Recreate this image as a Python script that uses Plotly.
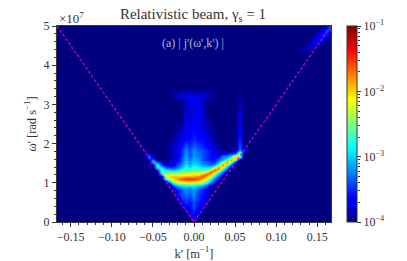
import math
import plotly.graph_objects as go

# wavenumber columns of the bright region (m^-1)
k_center = [-0.065, -0.06, -0.055, -0.05, -0.045, -0.04, -0.035, -0.03, -0.025, -0.02, -0.015, -0.01, -0.005,
            0.0, 0.005, 0.01, 0.015, 0.02, 0.025, 0.03, 0.035, 0.04, 0.045, 0.05, 0.055, 0.06, 0.065]
# frequency rows, units of 1e7 rad/s
omega_center = [3.4, 3.3, 3.2, 3.1, 2.9, 2.6, 2.3, 2.1, 1.9, 1.85, 1.8, 1.75, 1.7, 1.65, 1.6, 1.55, 1.5, 1.45, 1.4,
                1.35, 1.3, 1.25, 1.2, 1.15, 1.1, 1.05, 1.0, 0.95, 0.9, 0.85, 0.8, 0.7, 0.6, 0.5, 0.4, 0.3, 0.2, 0.1, 0.0]
# tenths of a decade above 1e-4
level_center = [
    [0,0,0,0,0,0,0,0,0,0,0,0,0,0,0,0,0,0,0,0,0,0,0,0,0,0,0],
    [0,0,0,0,0,0,0,0,1,1,2,2,2,2,2,2,1,1,0,0,0,0,0,0,1,0,0],
    [0,0,0,0,0,0,0,0,1,2,2,3,3,3,3,2,2,1,0,0,0,0,0,0,1,0,0],
    [0,0,0,0,0,0,0,0,0,0,0,2,3,3,3,2,0,0,0,0,0,0,0,0,1,0,0],
    [0,0,0,0,0,0,0,0,0,0,0,2,2,2,3,2,0,0,0,0,0,0,0,0,2,0,0],
    [0,0,0,0,0,0,0,0,0,0,0,3,2,3,3,2,1,0,0,0,0,0,0,0,3,0,0],
    [0,0,0,0,0,0,0,0,0,1,2,3,3,4,3,3,2,1,0,0,0,0,0,0,4,0,0],
    [0,0,0,0,0,0,0,0,1,2,3,4,4,5,4,4,3,2,1,0,0,0,0,0,5,0,0],
    [0,0,0,0,0,0,0,1,2,3,4,7,5,7,6,5,4,3,2,1,0,0,0,1,7,1,0],
    [0,1,0,0,0,0,0,1,2,3,5,8,6,8,6,6,5,4,2,1,1,0,1,1,8,2,0],
    [0,1,0,0,0,0,0,1,2,3,5,8,6,8,7,6,5,4,2,1,1,1,2,3,13,4,0],
    [0,1,4,0,0,0,0,1,2,3,5,8,6,8,7,6,5,4,3,2,2,4,6,8,18,0,0],
    [0,0,7,2,0,0,0,1,2,3,5,9,6,8,7,6,5,4,3,4,7,8,9,20,16,0,0],
    [0,0,6,4,0,0,0,1,2,3,6,9,7,9,8,6,5,4,4,5,8,9,14,22,10,0,0],
    [0,0,0,8,2,0,0,1,2,3,6,9,7,9,8,6,5,4,4,7,9,12,23,14,0,0,0],
    [0,0,0,11,5,2,0,1,2,4,6,10,8,9,9,7,6,5,5,8,11,22,18,8,0,0,0],
    [0,0,0,9,9,3,1,2,3,5,7,10,8,10,9,7,7,6,6,10,17,23,12,2,0,0,0],
    [0,0,0,0,13,6,3,3,4,6,8,11,9,11,10,8,8,7,9,14,24,14,8,0,0,0,0],
    [0,0,0,0,13,10,6,5,5,7,9,12,10,12,11,10,10,10,14,22,18,10,3,0,0,0,0],
    [0,0,0,0,7,13,9,8,8,9,11,13,12,13,13,12,12,15,22,23,13,7,0,0,0,0,0],
    [0,0,0,0,0,15,12,11,11,12,14,15,15,15,15,15,16,22,24,15,9,3,0,0,0,0,0],
    [0,0,0,0,0,13,16,16,15,15,16,17,17,18,18,18,22,24,17,11,6,0,0,0,0,0,0],
    [0,0,0,0,0,8,18,19,19,19,19,19,19,20,20,23,24,19,13,8,3,0,0,0,0,0,0],
    [0,0,0,0,0,0,16,20,21,21,21,22,22,22,23,24,20,16,10,5,1,0,0,0,0,0,0],
    [0,0,0,0,0,0,13,17,20,22,24,25,25,25,24,21,18,13,7,3,0,0,0,0,0,0,0],
    [0,0,0,0,0,0,4,12,17,20,21,22,22,21,20,18,15,10,5,1,0,0,0,0,0,0,0],
    [0,0,0,0,0,0,0,6,13,16,17,17,17,17,16,15,12,7,3,0,0,0,0,0,0,0,0],
    [0,0,0,0,0,0,0,2,8,11,12,13,13,13,12,10,7,3,1,0,0,0,0,0,0,0,0],
    [0,0,0,0,0,0,0,0,4,7,9,10,9,10,8,7,4,2,0,0,0,0,0,0,0,0,0],
    [0,0,0,0,0,0,0,0,2,5,7,8,7,9,6,5,3,1,0,0,0,0,0,0,0,0,0],
    [0,0,0,0,0,0,0,0,1,4,6,8,7,8,6,5,3,1,0,0,0,0,0,0,0,0,0],
    [0,0,0,0,0,0,0,0,0,4,6,7,6,8,5,4,3,0,0,0,0,0,0,0,0,0,0],
    [0,0,0,0,0,0,0,0,0,1,5,6,5,7,5,4,2,0,0,0,0,0,0,0,0,0,0],
    [0,0,0,0,0,0,0,0,0,0,3,5,4,6,4,3,1,0,0,0,0,0,0,0,0,0,0],
    [0,0,0,0,0,0,0,0,0,0,0,3,4,6,3,2,0,0,0,0,0,0,0,0,0,0,0],
    [0,0,0,0,0,0,0,0,0,0,0,1,3,5,3,1,0,0,0,0,0,0,0,0,0,0,0],
    [0,0,0,0,0,0,0,0,0,0,0,0,2,4,2,0,0,0,0,0,0,0,0,0,0,0,0],
    [0,0,0,0,0,0,0,0,0,0,0,0,0,3,0,0,0,0,0,0,0,0,0,0,0,0,0],
    [0,0,0,0,0,0,0,0,0,0,0,0,0,0,0,0,0,0,0,0,0,0,0,0,0,0,0],
]

k_streak = [0.13, 0.135, 0.14, 0.145, 0.15, 0.155, 0.16, 0.165]
omega_streak = [5.0, 4.9, 4.8, 4.7, 4.6, 4.5, 4.4, 4.3]
level_streak = [
    [0,0,0,0,0,0,1,5],
    [0,0,0,0,0,2,5,6],
    [0,0,0,0,2,4,5,2],
    [0,0,0,1,3,4,2,0],
    [0,0,1,3,3,1,0,0],
    [0,1,2,2,1,0,0,0],
    [1,1,1,0,0,0,0,0],
    [0,0,0,0,0,0,0,0],
]

cone_k = [-0.1667, 0.0, 0.1667]
cone_omega = [5.0, 0.0, 5.0]
x_ticks = [-0.15, -0.10, -0.05, 0.0, 0.05, 0.10, 0.15]
x_labels = ["−0.15", "−0.10", "−0.05", "0.00", "0.05", "0.10", "0.15"]
cbar_decades = [-4, -3, -2, -1]

FONT = "Liberation Serif"
INK = "#333333"
JET = [[0.0, "#00007f"], [0.11, "#0000ff"], [0.125, "#0000ff"], [0.375, "#00ffff"], [0.625, "#ffff00"],
       [0.875, "#ff0000"], [1.0, "#7f0000"]]

W_PAPER = 407 - 57 - 5


def px(x):
    return (x - 57) / W_PAPER


def to_log(rows):
    return [[-4 + v / 10 for v in row] for row in rows][::-1]


fig = go.Figure()
fig.add_trace(go.Heatmap(
    x=k_center, y=omega_center[::-1], z=to_log(level_center), zmin=-4, zmax=-1,
    colorscale=JET, zsmooth="best",
    colorbar=dict(
        x=px(347), xanchor="left", xpad=0, y=0.5, yanchor="middle", ypad=0, len=1, lenmode="fraction",
        thickness=10, thicknessmode="pixels", outlinewidth=1, outlinecolor=INK,
        tickmode="array", tickvals=cbar_decades,
        ticktext=[f"10<sup>−{abs(d)}</sup>" for d in cbar_decades],
        ticks="outside", ticklen=4, tickwidth=1, tickcolor=INK,
        tickfont=dict(family=FONT, size=12, color=INK),
    ),
))
fig.add_trace(go.Heatmap(
    x=k_streak, y=omega_streak[::-1], z=to_log(level_streak), zmin=-4, zmax=-1,
    colorscale=JET, zsmooth="best", showscale=False,
))
fig.add_trace(go.Scatter(
    x=cone_k, y=cone_omega, mode="lines", showlegend=False,
    line=dict(color="#d000d0", width=1.2, dash="3px,2px"),
))
# carrier for the minor ticks beside the colour bar
fig.add_trace(go.Scatter(x=[None], y=[None], yaxis="y2", showlegend=False, hoverinfo="skip"))

minor_cbar = [d + math.log10(m) for d in cbar_decades[:-1] for m in range(2, 10)]
axis_common = dict(showline=True, linecolor=INK, linewidth=1, mirror=True, ticks="outside", ticklen=4,
                   tickwidth=1, tickcolor=INK, showgrid=False, zeroline=False,
                   tickfont=dict(family=FONT, size=12, color=INK))
fig.update_layout(
    width=407, height=261, margin=dict(l=57, r=5, t=26, b=39),
    paper_bgcolor="white", plot_bgcolor="#00007f", showlegend=False,
    font=dict(family=FONT, size=12, color=INK),
    title=dict(text="Relativistic beam, γ<sub>s</sub> = 1", x=193 / 407, xanchor="center",
               y=1 - 14 / 261, yanchor="middle", font=dict(family=FONT, size=15, color=INK)),
    xaxis=dict(domain=[0, px(331)], range=[-0.1667, 0.1667], tickmode="array", tickvals=x_ticks, ticktext=x_labels,
               minor=dict(dtick=0.01, tick0=0, ticks="outside", ticklen=2, tickwidth=1, tickcolor=INK),
               title=dict(text="k' [m<sup>−1</sup>]", standoff=2, font=dict(family=FONT, size=12.5, color=INK)),
               **axis_common),
    yaxis=dict(range=[0, 5], tickmode="array", tickvals=[0, 1, 2, 3, 4, 5],
               minor=dict(dtick=0.2, tick0=0, ticks="outside", ticklen=2, tickwidth=1, tickcolor=INK),
               title=dict(text="ω' [rad s<sup>−1</sup>]", standoff=4, font=dict(family=FONT, size=12.5, color=INK)),
               **axis_common),
    yaxis2=dict(overlaying="y", anchor="free", position=px(357), side="right", range=[-4, -1],
                tickmode="array", tickvals=minor_cbar, showticklabels=False, ticks="outside", ticklen=2,
                tickwidth=1, tickcolor=INK, showgrid=False, zeroline=False, showline=False),
    annotations=[
        dict(text="×10<sup>7</sup>", xref="paper", yref="paper", x=0.0, y=1.0, xanchor="left", yanchor="bottom",
             showarrow=False, yshift=-2, font=dict(family=FONT, size=13, color=INK)),
        dict(text="(a) | j'(ω',k') |", xref="paper", yref="paper", x=px(193), y=0.915, xanchor="center",
             yanchor="middle", showarrow=False, font=dict(family=FONT, size=12, color="rgba(215,225,245,0.8)")),
    ],
)
fig.write_html("out.html", config={"displayModeBar": False},
               post_script="document.body.style.margin='0';document.body.style.overflow='hidden';")
